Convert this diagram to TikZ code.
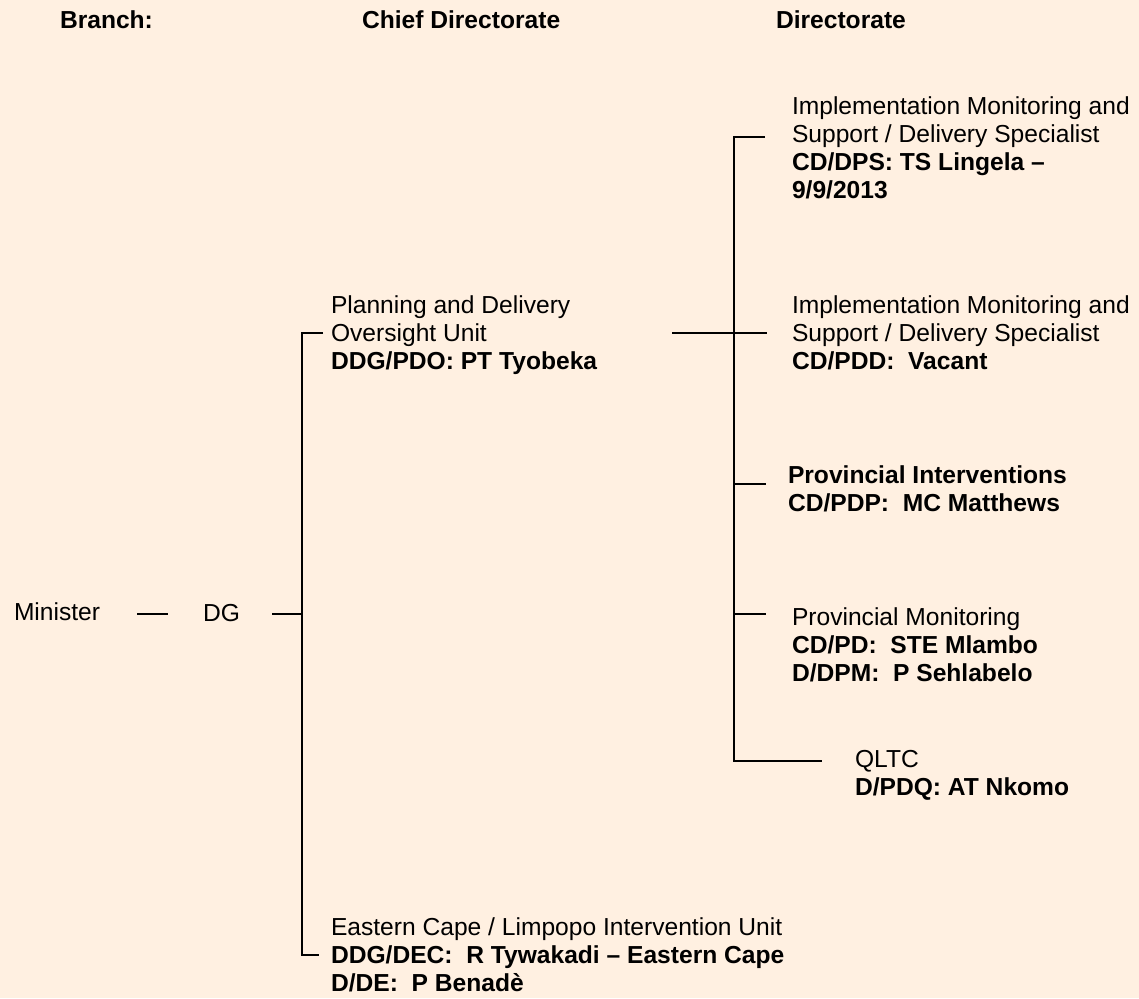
\documentclass[tikz,border=0pt]{standalone}
\usepackage{fontspec}
\setmainfont{Liberation Sans}
\definecolor{bgpeach}{RGB}{255,240,225}
\newcommand{\orgfont}{\fontsize{24.6}{28.2}\selectfont\frenchspacing}
\newcommand{\blocklines}[1]{\vtop{\baselineskip=28.2pt\lineskiplimit=-20pt #1}}
\tikzset{
  lbl/.style={anchor=base west, inner sep=0pt, outer sep=0pt, font=\orgfont, text=black},
  hdr/.style={lbl, font=\orgfont\bfseries},
  link/.style={draw=black, line width=1.6pt}
}
\begin{document}
\begin{tikzpicture}[x=1pt, y=-1pt]
\fill[bgpeach] (0,0) rectangle (1139,998);
\useasboundingbox (0,0) rectangle (1139,998);

% headers
\node[hdr] (hbranch) at (60,29) {Branch:};
\node[hdr] (hchief) at (362,29) {Chief Directorate};
\node[hdr] (hdir) at (776,29) {Directorate};

% left chain
\node[lbl] (minister) at (14,620) {Minister};
\node[lbl] (dg) at (203,621) {DG};

% chief directorates
\node[lbl] (pdo) at (331,313) {\blocklines{\hbox{Planning and Delivery}\hbox{Oversight Unit}\hbox{\bfseries DDG/PDO: PT Tyobeka}}};
\node[lbl] (dec) at (331,935) {\blocklines{\hbox{Eastern Cape / Limpopo Intervention Unit}\hbox{\bfseries DDG/DEC:~~R Tywakadi – Eastern Cape}\hbox{\bfseries D/DE:~~P Benadè}}};

% directorates
\node[lbl] (dps) at (792,114) {\blocklines{\hbox{Implementation Monitoring and}\hbox{Support / Delivery Specialist}\hbox{\bfseries CD/DPS: TS Lingela –}\hbox{\bfseries 9/9/2013}}};
\node[lbl] (pdd) at (792,313) {\blocklines{\hbox{Implementation Monitoring and}\hbox{Support / Delivery Specialist}\hbox{\bfseries CD/PDD:~~Vacant}}};
\node[lbl] (pdp) at (788,483) {\blocklines{\hbox{\bfseries Provincial Interventions}\hbox{\bfseries CD/PDP:~~MC Matthews}}};
\node[lbl] (pd) at (792,625) {\blocklines{\hbox{Provincial Monitoring}\hbox{\bfseries CD/PD:~~STE Mlambo}\hbox{\bfseries D/DPM:~~P Sehlabelo}}};
\node[lbl] (pdq) at (855,767) {\blocklines{\hbox{QLTC}\hbox{\bfseries D/PDQ: AT Nkomo}}};

% connector coordinates
\coordinate (minR) at (137,614);
\coordinate (dgL) at (168,614);
\coordinate (dgR) at (272,614);
\coordinate (busC) at (302,614);
\coordinate (busCtop) at (302,333);
\coordinate (busCbot) at (302,955);
\coordinate (pdoL) at (323,333);
\coordinate (decL) at (319,955);
\coordinate (pdoR) at (672,333);
\coordinate (pddL) at (767,333);
\coordinate (busDtop) at (734,137);
\coordinate (busDbot) at (734,761);
\coordinate (dpsL) at (765,137);
\coordinate (pdpL) at (766,484);
\coordinate (pdL) at (766,614);
\coordinate (pdqL) at (822,761);
\coordinate (busDp) at (734,484);
\coordinate (busDm) at (734,614);

% connectors
\draw[link] (minR) -- (dgL);
\draw[link] (dgR) -- (busC);
\draw[link] (pdoL) -- (busCtop) -- (busCbot) -- (decL);
\draw[link] (pdoR) -- (pddL);
\draw[link] (dpsL) -- (busDtop) -- (busDbot) -- (pdqL);
\draw[link] (busDp) -- (pdpL);
\draw[link] (busDm) -- (pdL);
\end{tikzpicture}
\end{document}
